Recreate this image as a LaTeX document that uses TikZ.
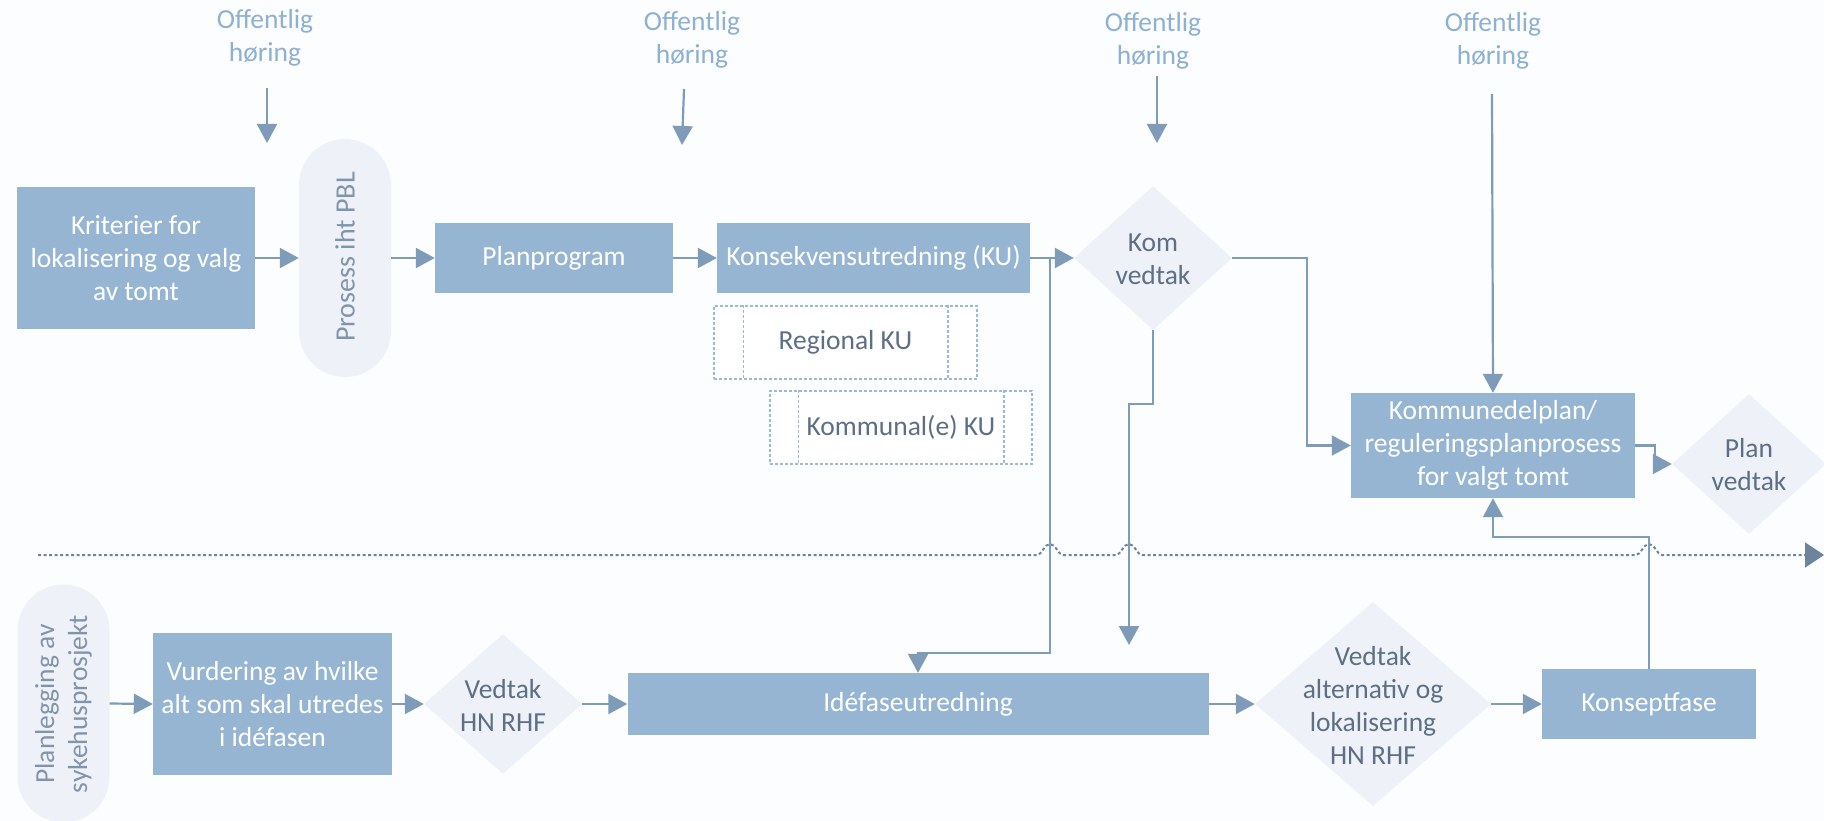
\documentclass[tikz,border=0pt]{standalone}
\usepackage{fontspec}
\setmainfont{Carlito}
\usetikzlibrary{shapes.geometric,arrows.meta,calc}
\definecolor{bg}{RGB}{252,253,254}
\definecolor{boxfill}{RGB}{150,181,211}
\definecolor{lightfill}{RGB}{238,242,248}
\definecolor{conn}{RGB}{126,156,185}
\definecolor{dotc}{RGB}{108,132,156}
\definecolor{dtextc}{RGB}{92,111,133}
\definecolor{pilltextc}{RGB}{128,148,170}
\definecolor{ohc}{RGB}{142,176,210}
\definecolor{dashc}{RGB}{155,186,214}
\begin{document}
\begin{tikzpicture}[x=1pt,y=-1pt,
  every node/.style={font=\fontsize{27.5}{33}\selectfont, align=center, inner sep=0pt},
  fbig/.style={font=\fontsize{28}{33}\selectfont},
  procbox/.style={rectangle, fill=boxfill, text=white},
  pillbox/.style={rectangle, rounded corners=46pt, fill=lightfill, minimum width=92pt, minimum height=238pt},
  decbox/.style={diamond, fill=lightfill, inner sep=0pt},
  dtext/.style={text=dtextc},
  ptext/.style={text=pilltextc, rotate=90},
  ohtext/.style={text=ohc},
  kubox/.style={rectangle, draw=dashc, fill=white, line width=1.5pt, dash pattern=on 3pt off 2pt, text=dtextc},
  kuline/.style={draw=dashc, line width=1.5pt, dash pattern=on 3pt off 2pt},
  arr/.style={draw=conn, line width=2.2pt, -{Triangle[length=19pt,width=20pt]}},
  dotl/.style={draw=dotc, line width=2pt, dash pattern=on 3pt off 2.5pt}
]
\fill[bg] (0,0) rectangle (1824,821);
\useasboundingbox (0,0) rectangle (1824,821);

% Offentlig hoering labels
\node[ohtext] (oh1) at (265,38) {Offentlig\\høring};
\node[ohtext] (oh2) at (692,40) {Offentlig\\høring};
\node[ohtext] (oh3) at (1153,41) {Offentlig\\høring};
\node[ohtext] (oh4) at (1493,41) {Offentlig\\høring};
\coordinate (oh1a) at (267,88);  \coordinate (oh1b) at (267,143);
\coordinate (oh2a) at (684,89);  \coordinate (oh2b) at (682,145);
\coordinate (oh3a) at (1157,76); \coordinate (oh3b) at (1157,143);
\coordinate (oh4a) at (1492,94);

% top row
\node[procbox, minimum width=238pt, minimum height=141pt] (krit) at (136,258) {Kriterier for\\lokalisering og valg\\av tomt};
\node[pillbox] (pbl) at (345,258) {};
\node[ptext, fbig] (pblt) at (345,257) {Prosess iht PBL};
\node[procbox, minimum width=238pt, minimum height=70pt] (plan) at (554,258) {Planprogram};
\node[procbox, minimum width=313pt, minimum height=69pt] (ku) at (873.5,258) {Konsekvensutredning (KU)};

\node[kubox, minimum width=263pt, minimum height=73pt] (reg) at (845.5,342.5) {Regional KU};
\draw[kuline] ([xshift=30pt]reg.north west) -- ([xshift=30pt]reg.south west);
\draw[kuline] ([xshift=-30pt]reg.north east) -- ([xshift=-30pt]reg.south east);
\node[kubox, minimum width=262pt, minimum height=73pt] (kom) at (901,427.5) {Kommunal(e) KU};
\draw[kuline] ([xshift=29pt]kom.north west) -- ([xshift=29pt]kom.south west);
\draw[kuline] ([xshift=-29pt]kom.north east) -- ([xshift=-29pt]kom.south east);

\node[decbox, minimum width=158pt, minimum height=144pt] (komv) at (1153,258) {};
\node[dtext] (komvt) at (1153,259) {Kom\\vedtak};

\node[procbox, minimum width=284pt, minimum height=105pt] (kdp) at (1493,445.5) {Kommunedelplan/\\reguleringsplanprosess\\for valgt tomt};
\node[decbox, minimum width=154pt, minimum height=140pt] (planv) at (1749,464) {};
\node[dtext] (planvt) at (1749,465) {Plan\\vedtak};

% bottom row
\node[pillbox] (syk) at (63.5,703.5) {};
\node[ptext] (sykt) at (63.5,704) {Planlegging av\\sykehusprosjekt};
\node[procbox, minimum width=239pt, minimum height=142pt] (vurd) at (272.5,704) {Vurdering av hvilke\\alt som skal utredes\\i idéfasen};
\node[decbox, minimum width=158pt, minimum height=140pt] (vhn) at (503,704) {};
\node[dtext] (vhnt) at (503,705) {Vedtak\\HN RHF};
\node[procbox, minimum width=581pt, minimum height=62pt] (ide) at (918,704) {Idéfaseutredning};
\node[decbox, minimum width=236pt, minimum height=204pt] (valt) at (1373,704) {};
\node[dtext] (valtt) at (1373,705) {Vedtak\\alternativ og\\lokalisering\\HN RHF};
\node[procbox, minimum width=214pt, minimum height=70pt] (konsept) at (1649,704) {Konseptfase};

% dotted separator with line jumps
\coordinate (dl0) at (38,555);
\coordinate (dl1) at (1824,555);
\draw[dotl, -{Triangle[length=19pt,width=25pt]}] (dl0) -- (1037,555)
  .. controls (1042,555) and (1044,544) .. (1050,544)
  .. controls (1056,544) and (1058,555) .. (1063,555) -- (1116,555)
  .. controls (1121,555) and (1123,544) .. (1129,544)
  .. controls (1135,544) and (1137,555) .. (1142,555) -- (1636,555)
  .. controls (1641,555) and (1643,544) .. (1649,544)
  .. controls (1655,544) and (1657,555) .. (1662,555) -- (dl1);

% hearing arrows
\draw[arr] (oh1a) -- (oh1b);
\draw[arr] (oh2a) -- (oh2b);
\draw[arr] (oh3a) -- (oh3b);
\draw[arr] (oh4a) -- (kdp.north);

% top connectors
\draw[arr] (krit.east) -- (pbl.west);
\draw[arr] (pbl.east) -- (plan.west);
\draw[arr] (plan.east) -- (ku.west);
\draw[arr] (ku.east) -- (komv.west);
\coordinate (j1) at (1050,258);
\draw[arr] (j1) -- (1050,653) -| (ide.north);
\coordinate (k2end) at (1129,645);
\draw[arr] (komv.south) -- (1153,404) -| (k2end);
\draw[arr] (komv.east) -- (1307,258) |- (kdp.west);
\draw[arr] (kdp.east) -- (1655,445.5) |- (planv.west);
\draw[arr] (konsept.north) -- (1649,537) -| (kdp.south);

% bottom connectors
\draw[arr] (syk.east) -- (vurd.west);
\draw[arr] (vurd.east) -- (vhn.west);
\draw[arr] (vhn.east) -- (ide.west);
\draw[arr] (ide.east) -- (valt.west);
\draw[arr] (valt.east) -- (konsept.west);
\end{tikzpicture}
\end{document}
